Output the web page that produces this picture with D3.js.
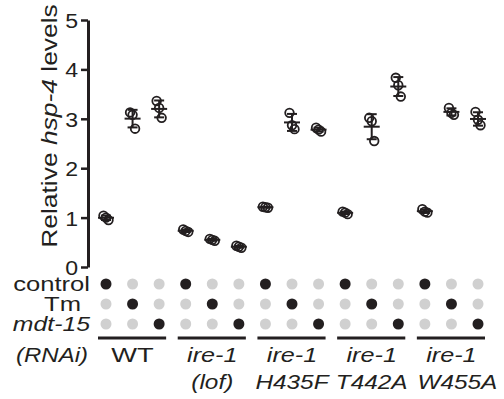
<!DOCTYPE html>
<html>
<head>
<meta charset="utf-8">
<script src="https://d3js.org/d3.v7.min.js"></script>
<style>
body { margin: 0; background: #fff; }
svg { display: block; }
text { font-family: "Liberation Sans", Arial, sans-serif; fill: #231f20; }
</style>
</head>
<body>
<svg id="chart" width="504" height="399"></svg>
<script>
// conditions (RNAi) and strains
var conditions = ["control", "Tm", "mdt-15"];
var strainLine1 = ["WT", "ire-1", "ire-1", "ire-1", "ire-1"];
var strainLine2 = ["", "(lof)", "H435F", "T442A", "W455A"];
var yTicks = [0, 1, 2, 3, 4, 5];

// relative hsp-4 levels, 3 replicates per condition (control, Tm, mdt-15)
var wt    = [[1.04, 1.00, 0.95], [3.13, 3.08, 2.80], [3.36, 3.22, 3.02]];
var lof   = [[0.76, 0.73, 0.71], [0.57, 0.55, 0.53], [0.43, 0.41, 0.39]];
var h435f = [[1.22, 1.21, 1.20], [3.12, 2.87, 2.79], [2.82, 2.78, 2.74]];
var t442a = [[1.12, 1.10, 1.07], [3.02, 2.95, 2.55], [3.83, 3.68, 3.45]];
var w455a = [[1.17, 1.12, 1.10], [3.22, 3.12, 3.08], [3.14, 2.98, 2.87]];
var strains = [wt, lof, h435f, t442a, w455a];

var ink = "#231f20", grey = "#d0d0d0";
var svg = d3.select("#chart");

// flatten into columns
var cols = [];
strains.forEach(function(s, g) {
  s.forEach(function(vals, c) {
    cols.push({group: g, cond: c, vals: vals, idx: cols.length});
  });
});

var x = d3.scaleLinear().domain([0, 14]).range([106, 478]);
var y = d3.scaleLinear().domain([0, 5]).range([267, 20]);

// y axis
var axis = svg.append("g").attr("transform", "translate(88,0)")
  .call(d3.axisLeft(y).tickValues(yTicks).tickFormat(d3.format("d"))
    .tickSize(7).tickPadding(2).tickSizeOuter(0));
axis.select(".domain").attr("stroke", ink).attr("stroke-width", 3);
axis.selectAll(".tick line").attr("stroke", ink).attr("stroke-width", 2.5);
axis.selectAll(".tick text").attr("font-size", 21).attr("fill", ink)
  .attr("font-family", "Liberation Sans, Arial, sans-serif")
  .attr("dy", "0.36em").attr("transform", "scale(1.1,1)");

// y label
var yl = svg.append("text").attr("transform", "translate(57,126) rotate(-90) scale(1.2,1)")
  .attr("text-anchor", "middle").attr("font-size", 22);
yl.append("tspan").text("Relative ");
yl.append("tspan").attr("font-style", "italic").text("hsp-4");
yl.append("tspan").text(" levels");

// data points, mean and SD
var pts = svg.append("g");
var jit = [-2.5, 0, 2.5];
cols.forEach(function(d) {
  var m = d3.mean(d.vals), sd = d3.deviation(d.vals), cx = x(d.idx);
  pts.append("line").attr("x1", cx).attr("x2", cx)
    .attr("y1", y(m + sd)).attr("y2", y(m - sd))
    .attr("stroke", ink).attr("stroke-width", 2);
  [m + sd, m - sd].forEach(function(v) {
    pts.append("line").attr("x1", cx - 5).attr("x2", cx + 5)
      .attr("y1", y(v)).attr("y2", y(v)).attr("stroke", ink).attr("stroke-width", 2);
  });
  pts.append("line").attr("x1", cx - 8).attr("x2", cx + 8)
    .attr("y1", y(m)).attr("y2", y(m)).attr("stroke", ink).attr("stroke-width", 2);
  pts.selectAll(null).data(d.vals).enter().append("circle")
    .attr("cx", function(v, i) { return cx + jit[i]; })
    .attr("cy", function(v) { return y(v); })
    .attr("r", 4.3).attr("fill", "none").attr("stroke", ink).attr("stroke-width", 1.8);
});

// dot matrix
var rowY = d3.scaleLinear().domain([0, 2]).range([284, 324]);
conditions.forEach(function(c, r) {
  svg.selectAll(null).data(cols).enter().append("circle")
    .attr("cx", function(d) { return x(d.idx); })
    .attr("cy", rowY(r))
    .attr("r", 5.5)
    .attr("fill", function(d) { return d.cond === r ? ink : grey; });
});

// row labels
var rowLab = svg.append("g").attr("font-size", 20);
rowLab.append("text").attr("text-anchor", "end")
  .attr("transform", "translate(90," + (rowY(0) + 7) + ") scale(1.28,1)").text(conditions[0]);
rowLab.append("text").attr("text-anchor", "end")
  .attr("transform", "translate(81," + (rowY(1) + 7) + ") scale(1.28,1)").text(conditions[1]);
rowLab.append("text").attr("text-anchor", "end").attr("font-style", "italic")
  .attr("transform", "translate(90," + (rowY(2) + 7) + ") scale(1.24,1)").text(conditions[2]);
rowLab.append("text").attr("text-anchor", "end").attr("font-style", "italic")
  .attr("transform", "translate(88,362) scale(1.2,1)").text("(RNAi)");

// group underlines and labels
strainLine1.forEach(function(s, g) {
  var x0 = x(g * 3), x1 = x(g * 3 + 2), xc = (x0 + x1) / 2;
  svg.append("line").attr("x1", x0 - 8).attr("x2", x1 + 7)
    .attr("y1", 338).attr("y2", 338).attr("stroke", ink).attr("stroke-width", 3);
  svg.append("text").attr("text-anchor", "middle")
    .attr("font-size", 21).attr("font-style", g === 0 ? "normal" : "italic")
    .attr("transform", "translate(" + xc + ",362) scale(" + (g === 0 ? 1.3 : 1.2) + ",1)").text(s);
  svg.append("text").attr("text-anchor", "middle")
    .attr("font-size", 21).attr("font-style", "italic")
    .attr("transform", "translate(" + (xc + (g === 4 ? 6 : 0)) + ",389) scale(1.16,1)").text(strainLine2[g]);
});
</script>
</body>
</html>
